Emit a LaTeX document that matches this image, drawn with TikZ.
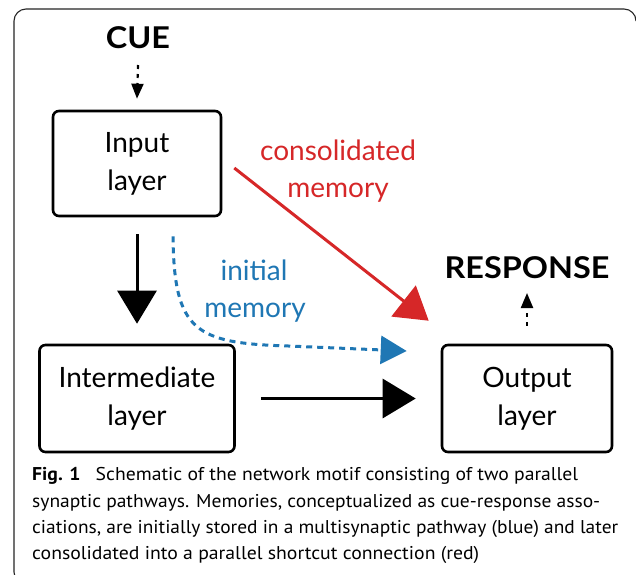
\documentclass[tikz,border=0pt]{standalone}
\usepackage{fontspec}
\usepackage{graphicx}
\setmainfont{Lato}
\newfontfamily\capfont{PT Sans}
\newfontfamily\headfont[FakeStretch=1.08]{Lato}
\usetikzlibrary{arrows.meta,calc}
\definecolor{cred}{RGB}{214,39,40}
\definecolor{cblue}{RGB}{31,119,180}
\newcommand{\capline}[2]{\resizebox{#1pt}{\height}{#2}}
\begin{document}
\begin{tikzpicture}[x=1pt,y=-1pt,
  layerbox/.style={draw,line width=2.6pt,rounded corners=6pt,align=center,
    font=\fontsize{28}{38}\selectfont,inner sep=0pt},
  bigtext/.style={font=\headfont\fontsize{30}{32}\selectfont\bfseries,anchor=base,inner sep=0pt},
  lbl/.style={font=\fontsize{28}{30}\selectfont,anchor=base,inner sep=0pt},
  captionline/.style={font=\capfont\fontsize{18.5}{21}\selectfont,anchor=base west,inner sep=0pt},
  fatarrow/.style={line width=3pt,-{Triangle[length=33pt,width=39pt]}},
  dotarrow/.style={line width=2.2pt,dash pattern=on 4pt off 5pt,-{Triangle[length=15pt,width=12pt]}},
  redarrow/.style={cred,line width=3pt,-{Triangle[length=32pt,width=39pt]}},
  bluearrow/.style={cblue,line width=3pt,dash pattern=on 6pt off 5pt,-{Triangle[length=26pt,width=28pt]}},
  frame/.style={line width=1.1pt,black!85}]
\useasboundingbox (0,0) rectangle (636,574);
\fill[white] (0,0) rectangle (636,574);
% frame
\draw[frame] (22,580) arc[start angle=90,end angle=180,radius=8] -- (14,21)
  arc[start angle=180,end angle=270,radius=12] -- (624,9)
  arc[start angle=270,end angle=360,radius=12];
% nodes
\node[bigtext] (cue) at (138,48) {CUE};
\node[layerbox,minimum width=168pt,minimum height=105pt] (input) at (137,163.5) {Input\\layer};
\node[layerbox,minimum width=195pt,minimum height=107pt] (inter) at (137,398.5) {Intermediate\\layer};
\node[layerbox,minimum width=170pt,minimum height=107pt] (output) at (527,398.5) {Output\\layer};
\node[bigtext] (resp) at (527,278) {RESPONSE};
\node[lbl,cred] (cons1) at (338,160) {consolidated};
\node[lbl,cred] (cons2) at (338,197) {memory};
\node[lbl,cblue] (init1) at (254,280) {initial};
\node[lbl,cblue] (init2) at (255,317) {memory};
% connectors
\draw[dotarrow] ($(cue.base)+(0,17)$) -- ($(input.north)+(0,-11)$);
\draw[dotarrow] ($(output.north)+(0,-18)$) -- ($(resp.base)+(0,15)$);
\draw[fatarrow] ($(input.south)+(0,17)$) -- ($(inter.north)+(0,-20)$);
\draw[fatarrow] ($(inter.east)+(25,0)$) -- ($(output.west)+(-25,0)$);
\draw[redarrow] ($(input.east)+(12,4.5)$) -- ($(output.north west)+(-12,-23)$);
\draw[bluearrow] ($(input.south)+(36,19)$) .. controls ($(input.south)+(37,114)$) and ($(input.south)+(58,126)$) .. ($(output.west)+(-152,-52.5)$) -- ($(output.west)+(-34,-47.5)$);
% caption
\node[captionline] (cap1) at (32,480) {\capline{546}{\textbf{Fig. 1}\hspace{0.5em} Schematic of the network motif consisting of two parallel}};
\node[captionline] (cap2) at (32,507) {\capline{568}{synaptic pathways. Memories, conceptualized as cue-response asso-}};
\node[captionline] (cap3) at (32,533) {\capline{586}{ciations, are initially stored in a multisynaptic pathway (blue) and later}};
\node[captionline] (cap4) at (32,559) {\capline{447}{consolidated into a parallel shortcut connection (red)}};
\end{tikzpicture}
\end{document}
